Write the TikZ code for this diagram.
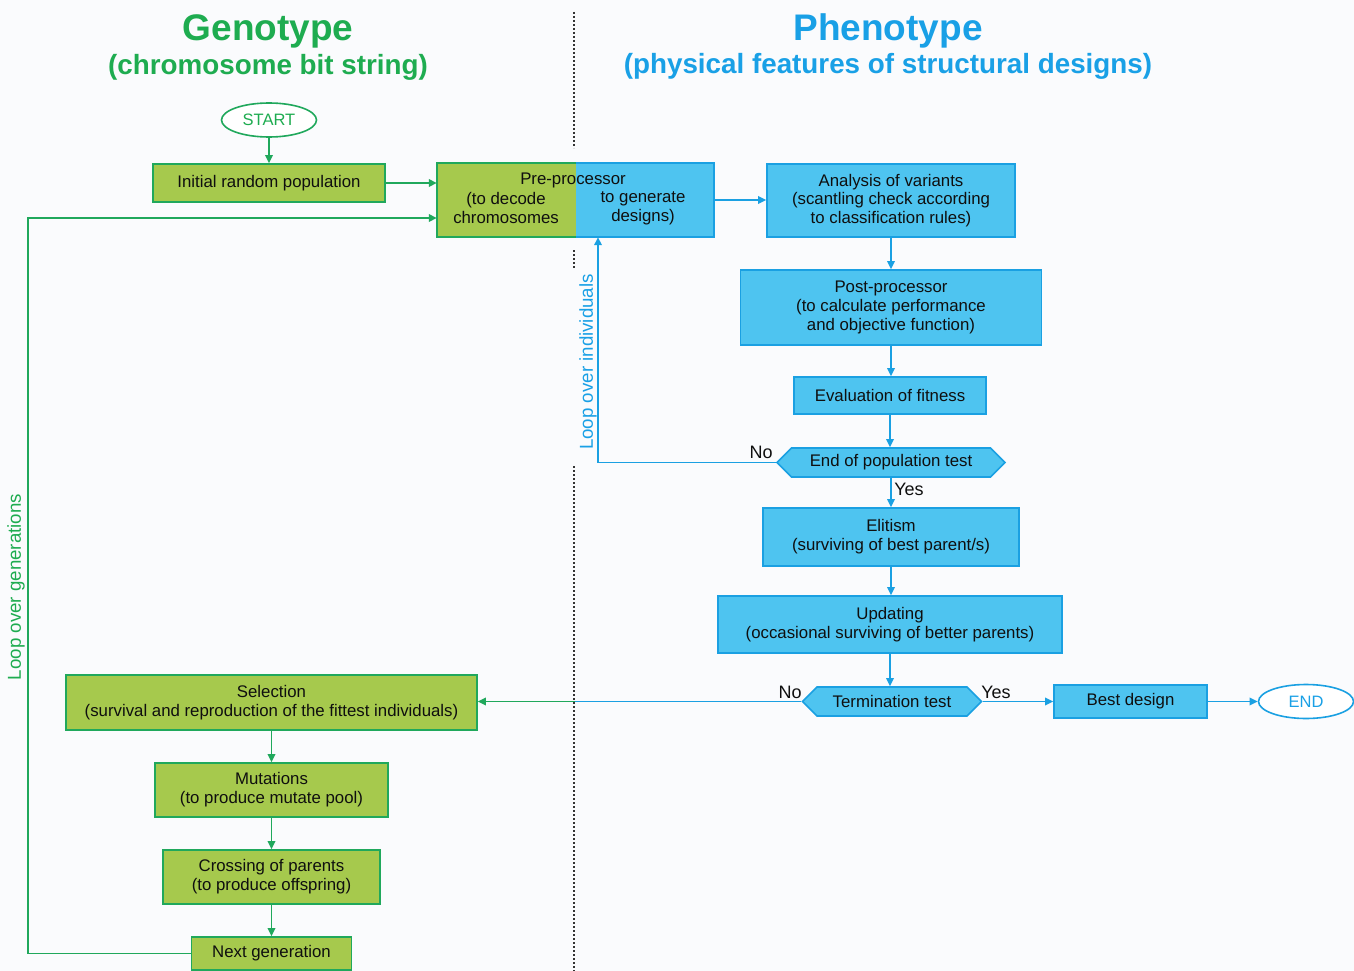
\documentclass[tikz,border=0pt]{standalone}
\usepackage{fontspec}
\setmainfont{Liberation Sans}
\usetikzlibrary{arrows.meta,shapes.symbols,shapes.geometric}
\definecolor{gfill}{RGB}{166,201,77}
\definecolor{gline}{RGB}{32,168,92}
\definecolor{bfill}{RGB}{78,196,240}
\definecolor{bline}{RGB}{26,160,226}
\definecolor{gtitle}{RGB}{30,172,80}
\definecolor{btitle}{RGB}{25,160,230}
\definecolor{bgc}{RGB}{250,251,253}
\definecolor{ink}{RGB}{15,15,15}
\begin{document}
\begin{tikzpicture}[x=1pt,y=-1pt,
  txt/.style={inner sep=0pt, align=center, text=ink, font=\fontsize{16.8}{18.8}\selectfont},
  gbox/.style={txt, draw=gline, fill=gfill, line width=1.6pt},
  bbox/.style={txt, draw=bline, fill=bfill, line width=1.6pt},
  hexbox/.style={bbox, shape=signal, signal to=west and east, signal pointer angle=90},
  term/.style={draw, ellipse, line width=1.6pt, fill=white, inner sep=0pt, minimum width=95pt, minimum height=34pt, font=\fontsize{16.5}{18}\selectfont},
  garrow/.style={draw=gline, line width=1.7pt, -{Triangle[length=8pt,width=7.5pt]}},
  barrow/.style={draw=bline, line width=1.7pt, -{Triangle[length=8pt,width=7.5pt]}},
  lbl/.style={inner sep=0pt, text=ink, font=\fontsize{18}{20}\selectfont}]
\fill[bgc] (0,0) rectangle (1354,971);
\useasboundingbox (0,0) rectangle (1354,971);
% divider
\draw[line width=2pt, dotted, black!80] (574,12) -- (574,148);
\draw[line width=2pt, dotted, black!80] (574,250) -- (574,268);
\draw[line width=2pt, dotted, black!80] (574,466) -- (574,971);
% titles
\node[inner sep=0pt, text=gtitle, font=\fontsize{37}{40}\selectfont\bfseries] (gt) at (268,31) {Genotype};
\node[inner sep=0pt, text=gtitle, font=\fontsize{27.8}{30}\selectfont\bfseries] (gst) at (268,67) {(chromosome bit string)};
\node[inner sep=0pt, text=btitle, font=\fontsize{37}{40}\selectfont\bfseries] (pt) at (888,31) {Phenotype};
\node[inner sep=0pt, text=btitle, font=\fontsize{27.8}{30}\selectfont\bfseries] (pst) at (888,66) {(physical features of structural designs)};
% left column
\node[term, draw=gline, text=gtitle] (start) at (269,120) {START};
\node[gbox, minimum width=232pt, minimum height=38pt] (init) at (269,183) {Initial random population};
% pre-processor
\node[inner sep=0pt, minimum width=277pt, minimum height=74pt] (pre) at (575.5,200) {};
\fill[gfill] (pre.north west) rectangle (pre.south);
\fill[bfill] (pre.north) rectangle (pre.south east);
\draw[gline, line width=1.6pt] (pre.north) -- (pre.north west) -- (pre.south west) -- (pre.south);
\draw[bline, line width=1.6pt] (pre.north) -- (pre.north east) -- (pre.south east) -- (pre.south);
\node[txt] (pretitle) at (573,180) {Pre-processor};
\node[txt] (preL) at (506,208) {(to decode\\chromosomes};
\node[txt] (preR) at (643,208) {to generate\\designs)};
% right column
\node[bbox, minimum width=248pt, minimum height=73pt] (ana) at (891,200.5) {Analysis of variants\\(scantling check according\\to classification rules)};
\node[bbox, minimum width=301pt, minimum height=75pt] (post) at (891,307.5) {Post-processor\\(to calculate performance\\and objective function)};
\node[bbox, minimum width=192pt, minimum height=37pt] (eval) at (890,395.5) {Evaluation of fitness};
\node[hexbox, minimum width=228pt, minimum height=29pt] (endpop) at (891,462.5) {End of population test};
\node[bbox, minimum width=256pt, minimum height=58pt] (eli) at (891,537) {Elitism\\(surviving of best parent/s)};
\node[bbox, minimum width=344pt, minimum height=57pt] (upd) at (890,624.5) {Updating\\(occasional surviving of better parents)};
\node[hexbox, minimum width=179pt, minimum height=29pt] (termt) at (892,701.5) {Termination test};
\node[bbox, minimum width=153pt, minimum height=33pt] (best) at (1130.5,701.5) {Best design};
\node[term, draw=bline, text=btitle] (endn) at (1306,701.5) {END};
% bottom-left column
\node[gbox, minimum width=411pt, minimum height=55pt] (sel) at (271.5,702.5) {Selection\\(survival and reproduction of the fittest individuals)};
\node[gbox, minimum width=233pt, minimum height=54pt] (mut) at (271.5,790) {Mutations\\(to produce mutate pool)};
\node[gbox, minimum width=217pt, minimum height=54pt] (cross) at (271.5,877) {Crossing of parents\\(to produce offspring)};
\node[gbox, minimum width=160pt, minimum height=33pt] (next) at (271.5,953.5) {Next generation};
% connectors
\draw[garrow] (start.south) -- (start.south |- init.north);
\draw[garrow] (init.east) -- (init.east -| pre.west);
\coordinate (lg) at (28,218);
\draw[garrow] (next.west) -| (lg) -- (lg -| pre.west);
\draw[barrow] (pre.east) -- (pre.east -| ana.west);
\draw[barrow] (ana.south) -- (ana.south |- post.north);
\draw[barrow] (post.south) -- (post.south |- eval.north);
\draw[barrow] (eval.south) -- (eval.south |- endpop.north);
\coordinate (li) at (598,462.5);
\draw[barrow] (endpop.west) -- (li) -- (li |- pre.south);
\draw[barrow] (endpop.south) -- (endpop.south |- eli.north);
\draw[barrow] (eli.south) -- (eli.south |- upd.north);
\draw[barrow] (upd.south) -- (upd.south |- termt.north);
\coordinate (split) at (575,702);
\draw[bline, line width=1.7pt] (termt.west) -- (termt.west -| split);
\draw[garrow] (termt.west -| split) -- (termt.west -| sel.east);
\draw[barrow] (termt.east) -- (termt.east -| best.west);
\draw[barrow] (best.east) -- (endn.west);
\draw[garrow] (sel.south) -- (sel.south |- mut.north);
\draw[garrow] (mut.south) -- (mut.south |- cross.north);
\draw[garrow] (cross.south) -- (cross.south |- next.north);
% labels
\node[inner sep=0pt, rotate=90, text=gtitle, font=\fontsize{18.7}{20}\selectfont] (loopgen) at (16,587) {Loop over generations};
\node[inner sep=0pt, rotate=90, text=btitle, font=\fontsize{18.7}{20}\selectfont] (loopind) at (588,362) {Loop over individuals};
\node[lbl] (no1) at (761,452) {No};
\node[lbl] (yes1) at (909,489) {Yes};
\node[lbl] (no2) at (790,692) {No};
\node[lbl] (yes2) at (996,692) {Yes};
\end{tikzpicture}
\end{document}
